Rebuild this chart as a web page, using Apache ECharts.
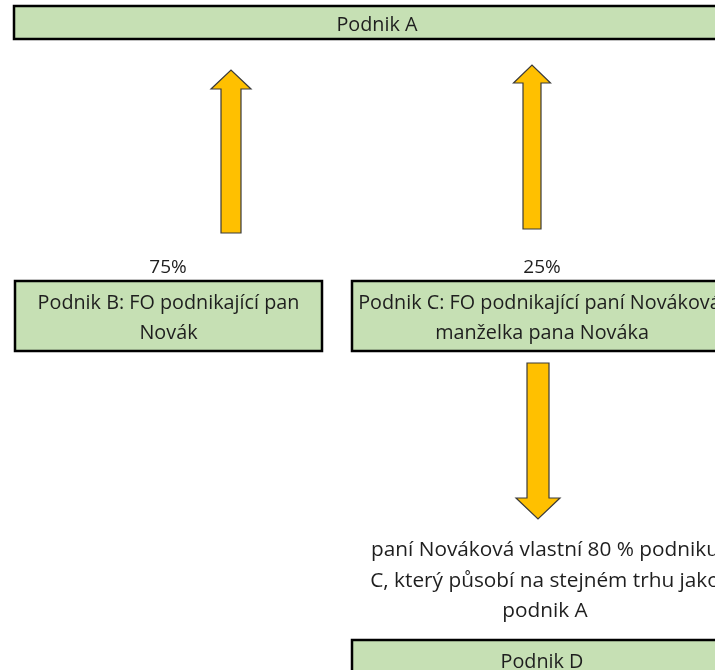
<!DOCTYPE html>
<html>
<head>
<meta charset="utf-8">
<script src="https://cdn.jsdelivr.net/npm/echarts@6/dist/echarts.min.js"></script>
<style>html,body{margin:0;padding:0;background:#fff}#c{width:715px;height:670px}</style>
</head>
<body>
<div id="c"></div>
<script>
// Diagram content
const boxLabels = [
  'Podnik A',
  'Podnik B: FO podnikající pan\nNovák',
  'Podnik C: FO podnikající paní Nováková,\nmanželka pana Nováka',
  'Podnik D'
];
// Box extents in diagram units (x1, y1, x2, y2)
const boxX1 = [14, 15, 352, 352];
const boxY1 = [6, 281, 281, 640];
const boxX2 = [740, 322, 732, 732];
const boxY2 = [39, 351, 351, 680];

// Arrows: centre x, tail y, tip y
const arrowX = [231, 532, 538];
const arrowTail = [233, 229, 363];
const arrowTip = [70, 65, 519];
const arrowShaft = [20, 18, 22];
const arrowHead = [40, 37, 44];
const arrowHeadLen = [19, 18, 21];

// Free texts
const freeLabels = ['75%', '25%', 'paní Nováková vlastní 80 % podniku\nC, který působí na stejném trhu jako\npodnik A'];
const freeX = [168, 542, 545];
const freeY = [268, 268, 581];
const freeSize = [19, 19, 20.8];

const FONT = '"Open Sans", sans-serif';
const chart = echarts.init(document.getElementById('c'));

const boxData = boxLabels.map((l, i) => [boxX1[i], boxY1[i], boxX2[i], boxY2[i], i]);
const arrowData = arrowX.map((x, i) => [x, arrowTail[i], arrowTip[i], arrowShaft[i], arrowHead[i], arrowHeadLen[i]]);
const textData = freeLabels.map((l, i) => [freeX[i], freeY[i], i]);

chart.setOption({
  animation: false,
  grid: { left: 0, right: 0, top: 0, bottom: 0 },
  xAxis: { type: 'value', min: 0, max: 715, show: false },
  yAxis: { type: 'value', min: 0, max: 670, inverse: true, show: false },
  series: [
    {
      type: 'custom', clip: false, data: arrowData,
      renderItem: function (params, api) {
        const x = api.value(0), t = api.value(1), p = api.value(2);
        const sw = api.value(3) / 2, hw = api.value(4) / 2, hl = api.value(5);
        const dir = p < t ? 1 : -1; // 1 = pointing up
        const hb = p + dir * hl;
        const pts = [
          [x - sw, t], [x - sw, hb], [x - hw, hb], [x, p], [x + hw, hb], [x + sw, hb], [x + sw, t]
        ].map(q => api.coord(q));
        return { type: 'polygon', shape: { points: pts }, style: { fill: '#FFC000', stroke: '#3a3a3a', lineWidth: 1.2 } };
      }
    },
    {
      type: 'custom', clip: false, data: boxData,
      renderItem: function (params, api) {
        const a = api.coord([api.value(0), api.value(1)]);
        const b = api.coord([api.value(2), api.value(3)]);
        const idx = api.value(4);
        return {
          type: 'group',
          children: [
            { type: 'rect', shape: { x: a[0], y: a[1], width: b[0] - a[0], height: b[1] - a[1] },
              style: { fill: '#C6E0B4', stroke: '#000', lineWidth: 2.5 } },
            { type: 'text', x: (a[0] + b[0]) / 2, y: (a[1] + b[1]) / 2 + 2.5,
              style: { text: boxLabels[idx], fill: '#1e1e1e', font: '19.8px ' + FONT, align: 'center', verticalAlign: 'middle', lineHeight: 30 } }
          ]
        };
      }
    },
    {
      type: 'custom', clip: false, data: textData,
      renderItem: function (params, api) {
        const c = api.coord([api.value(0), api.value(1)]);
        const i = api.value(2);
        return { type: 'text', x: c[0], y: c[1],
          style: { text: freeLabels[i], fill: '#1e1e1e', font: freeSize[i] + 'px ' + FONT, align: 'center', verticalAlign: 'middle', lineHeight: 30.5 } };
      }
    }
  ]
});
</script>
</body>
</html>
